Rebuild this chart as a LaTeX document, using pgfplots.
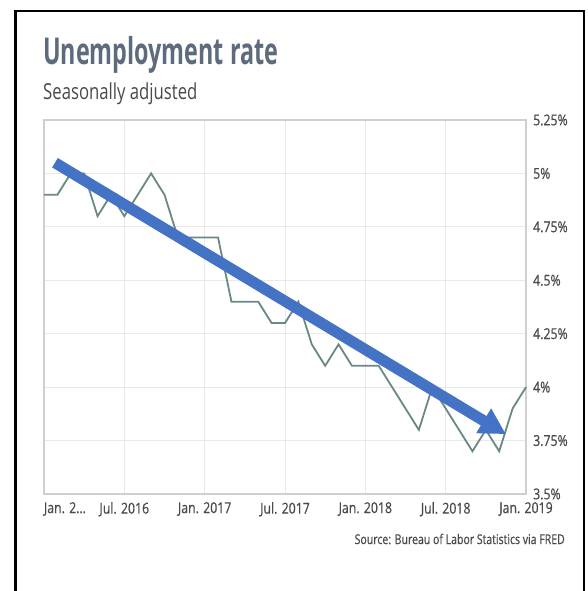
\documentclass[border=0pt]{standalone}
\usepackage{fontspec}
\setmainfont{Open Sans}
\newfontfamily\titlef[FakeStretch=0.63]{Open Sans}
\newfontfamily\subf[FakeStretch=0.76]{Open Sans}
\newfontfamily\tickf[FakeStretch=0.82,FakeBold=0.6]{Open Sans}
\newfontfamily\srcf[FakeStretch=0.78,FakeBold=0.6]{Open Sans}
\usepackage{pgfplots}
\pgfplotsset{compat=1.18}
\usetikzlibrary{arrows.meta}
\definecolor{linec}{HTML}{6A8884}
\definecolor{arrowc}{HTML}{4472C4}
\definecolor{gridc}{HTML}{E9E9E9}
\definecolor{axisc}{HTML}{CFCFCF}
\definecolor{titlec}{HTML}{5E6B7C}
\definecolor{textc}{HTML}{4A4A4A}
\begin{document}
\begin{tikzpicture}[x=1pt,y=1pt]
\path[use as bounding box] (0,0) rectangle (588,591);
\fill[white] (0,0) rectangle (588,591);
\draw[line width=2.5pt] (15.25,-3) -- (15.25,579.75) -- (583.75,579.75) -- (583.75,-3);
\node[anchor=base west, inner sep=0, text=titlec] at (43,526) {\titlef\bfseries\fontsize{37}{37}\selectfont Unemployment rate};
\node[anchor=base west, inner sep=0, text=textc] at (43,491) {\subf\fontsize{22}{22}\selectfont Seasonally adjusted};
\node[anchor=east, inner sep=0, text=textc] at (565,52) {\srcf\fontsize{13.5}{13.5}\selectfont Source: Bureau of Labor Statistics via FRED};
\begin{axis}[
  at={(44pt,97pt)}, anchor=south west,
  scale only axis, width=482pt, height=374pt,
  xmin=0, xmax=36, ymin=3.5, ymax=5.25,
  xtick={0,6,12,18,24,30,36},
  xticklabels={\makebox[0pt][l]{Jan. 2…},Jul. 2016,Jan. 2017,Jul. 2017,Jan. 2018,Jul. 2018,Jan. 2019},
  ytick={3.5,3.75,4,4.25,4.5,4.75,5,5.25},
  yticklabels={3.5\%,3.75\%,4\%,4.25\%,4.5\%,4.75\%,5\%,5.25\%},
  yticklabel pos=right,
  grid=major,
  major grid style={gridc, line width=1pt},
  axis line style={axisc, line width=1.3pt},
  major tick length=0pt,
  ticklabel style={font=\tickf\fontsize{15}{15}\selectfont, text=textc},
  yticklabel style={anchor=west, inner sep=0pt, xshift=7pt},
  xticklabel style={anchor=north, inner sep=0pt, yshift=-8pt},
  clip=false,
]
\addplot[linec, line width=1.8pt, mark=none] table {
x y
0 4.9
1 4.9
2 5.0
3 5.0
4 4.8
5 4.9
6 4.8
7 4.9
8 5.0
9 4.9
10 4.7
11 4.7
12 4.7
13 4.7
14 4.4
15 4.4
16 4.4
17 4.3
18 4.3
19 4.4
20 4.2
21 4.1
22 4.2
23 4.1
24 4.1
25 4.1
26 4.0
27 3.9
28 3.8
29 4.0
30 3.9
31 3.8
32 3.7
33 3.8
34 3.7
35 3.9
36 4.0
};
\addplot[arrowc, line width=11pt, -{Triangle[length=26pt,width=27pt]}] coordinates {(0.82,5.05) (34.5,3.78)};
\end{axis}
\end{tikzpicture}
\end{document}
